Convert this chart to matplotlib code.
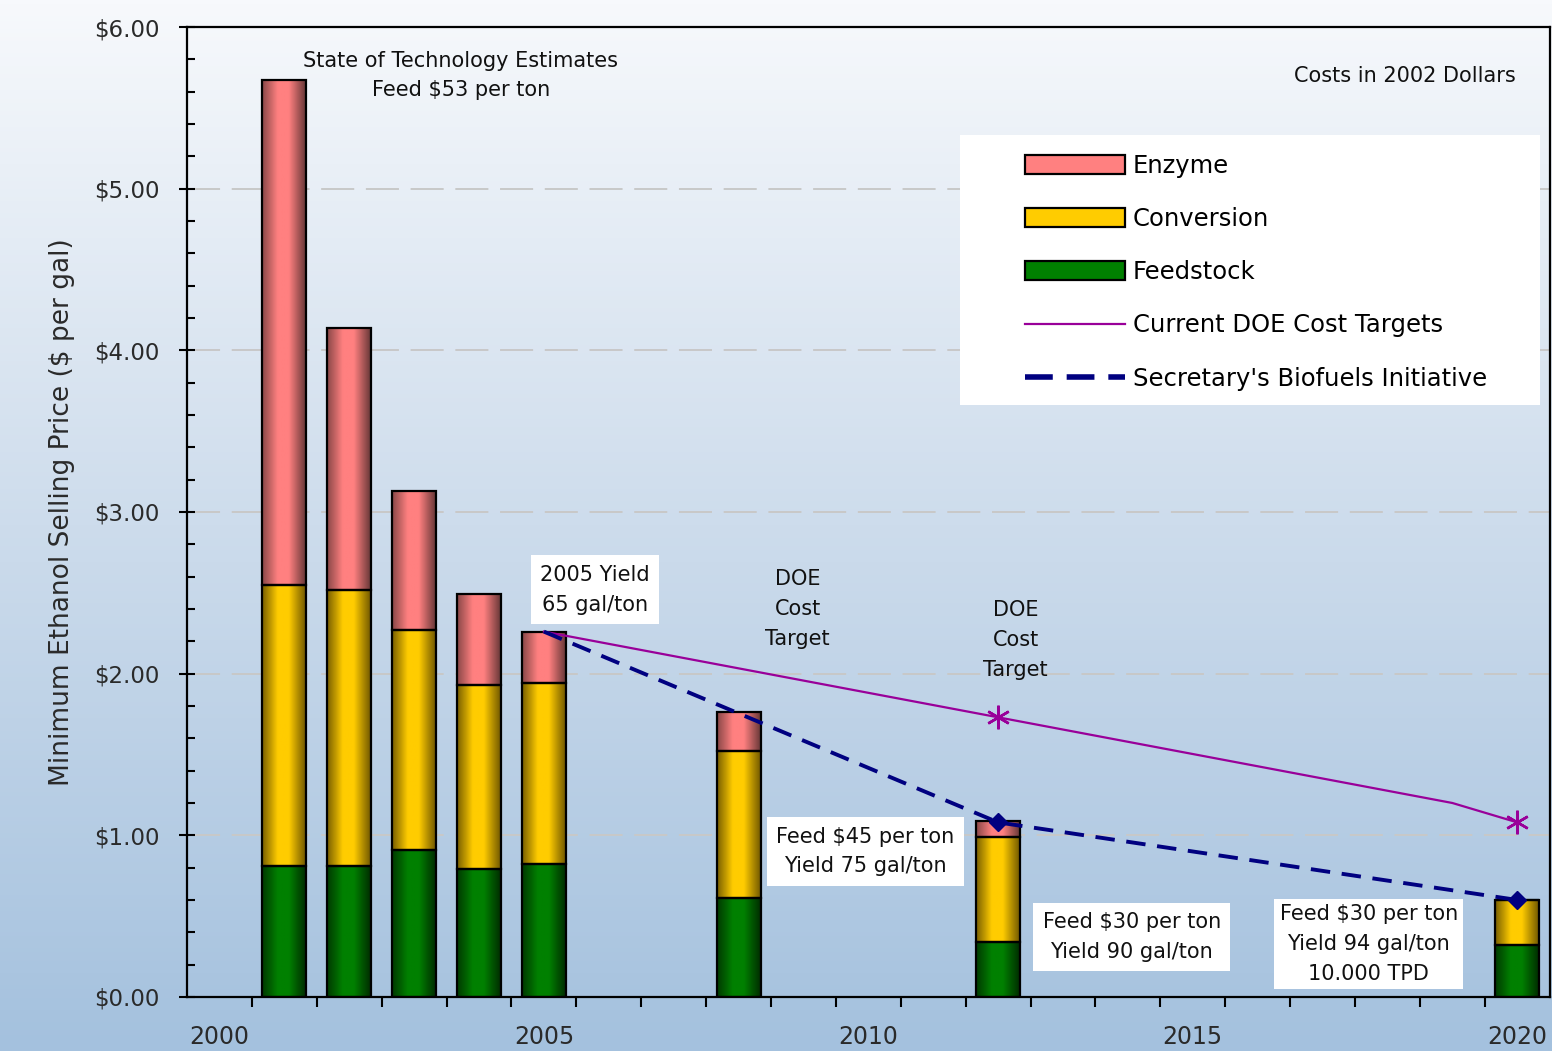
import matplotlib.pyplot as plt
import numpy as np
from matplotlib.colors import LinearSegmentedColormap
from matplotlib.patches import Patch, Rectangle
from matplotlib.lines import Line2D

# stacked cost components ($ per gal)
years = [2001, 2002, 2003, 2004, 2005, 2008, 2012, 2020]
feedstock = [0.81, 0.81, 0.91, 0.79, 0.82, 0.61, 0.34, 0.32]
conversion = [1.74, 1.71, 1.36, 1.14, 1.12, 0.91, 0.65, 0.28]
enzyme = [3.12, 1.62, 0.86, 0.56, 0.32, 0.24, 0.10, 0.0]

# target lines
doe_years = [2005, 2012, 2019, 2020]
doe_target = [2.26, 1.73, 1.20, 1.08]
bfi_years = [2005, 2012, 2020]
bfi_target = [2.26, 1.08, 0.60]

plt.rcParams['font.family'] = 'DejaVu Sans'

fig = plt.figure(figsize=(15.52, 10.51), dpi=100)

# background gradient over the whole figure
bg = fig.add_axes([0, 0, 1, 1], zorder=-10)
bg_cmap = LinearSegmentedColormap.from_list('bg', ['#f7f9fc', '#cddcec', '#a4c1de'])
bg.imshow(np.linspace(0, 1, 256).reshape(-1, 1), aspect='auto', cmap=bg_cmap,
          extent=[0, 1, 0, 1], origin='upper')
bg.axis('off')

ax = fig.add_axes([0.1205, 0.0514, 0.878, 0.9229])
ax.set_facecolor('none')


def shade_cmap(dark_l, base, dark_r):
    return LinearSegmentedColormap.from_list(
        'shade', [(0, dark_l), (0.35, base), (0.6, base), (1, dark_r)])


series = [
    ('Feedstock', feedstock, shade_cmap('#003a00', '#008000', '#002800'), '#008000'),
    ('Conversion', conversion, shade_cmap('#7a6000', '#ffcc00', '#6a5200'), '#ffcc00'),
    ('Enzyme', enzyme, shade_cmap('#8a4848', '#ff8080', '#603434'), '#ff8080'),
]

width = 0.68
bottom = np.zeros(len(years))
grad = np.linspace(0, 1, 64).reshape(1, -1)
for name, vals, cm, base in series:
    bars = ax.bar(years, vals, width=width, bottom=bottom, facecolor='none',
                  edgecolor='black', linewidth=1.6, zorder=3)
    for rect in bars:
        if rect.get_height() <= 0:
            continue
        x0, y0 = rect.get_x(), rect.get_y()
        ax.imshow(grad, extent=[x0, x0 + rect.get_width(), y0, y0 + rect.get_height()],
                  cmap=cm, aspect='auto', interpolation='bilinear', zorder=2)
    bottom = bottom + np.array(vals)

ax.plot(doe_years, doe_target, color='#990099', lw=1.6, marker=(6, 2, 0), ms=17,
        mew=1.8, markevery=[1, 3], zorder=5)
ax.plot(bfi_years, bfi_target, color='#000080', lw=2.8, ls=(0, (5, 3)),
        marker='D', ms=9, markevery=[1, 2], zorder=5)

ax.set_xlim(1999.5, 2020.5)
ax.set_ylim(0, 6)

# y axis
ax.set_yticks(np.arange(0, 7, 1))
ax.set_yticklabels([f'${v:.2f}' for v in range(7)], fontsize=16.5, color='#2a2a2a')
ax.set_yticks(np.arange(0, 6.01, 0.2), minor=True)
ax.tick_params(axis='y', which='major', direction='inout', length=11, width=1.5, pad=14)
ax.tick_params(axis='y', which='minor', direction='in', length=6, width=1.5)
ax.yaxis.grid(True, which='major', color='#c8c8c8', ls=(0, (17, 6)), lw=1.4)
ax.set_axisbelow(True)
ax.set_ylabel('Minimum Ethanol Selling Price ($ per gal)', fontsize=19, color='#2a2a2a',
              labelpad=14)

# x axis
ax.set_xticks([2000, 2005, 2010, 2015, 2020])
ax.set_xticklabels(['2000', '2005', '2010', '2015', '2020'], fontsize=17, color='#2a2a2a')
ax.set_xticks(np.arange(2000.5, 2020, 1.0), minor=True)
ax.tick_params(axis='x', which='major', length=0, pad=20)
ax.tick_params(axis='x', which='minor', direction='out', length=7, width=1.5)

for s in ax.spines.values():
    s.set_linewidth(1.6)
    s.set_color('black')

# annotations
txt = dict(ha='center', va='center', fontsize=15, color='#111111', zorder=6,
           linespacing=1.62)
box = dict(boxstyle='square,pad=0.45', facecolor='white', edgecolor='none')
ax.text(2003.72, 5.70, 'State of Technology Estimates\nFeed $53 per ton', **txt)
ax.text(2018.27, 5.70, 'Costs in 2002 Dollars', **txt)
ax.text(2005.79, 2.52, '2005 Yield\n65 gal/ton', bbox=box, **txt)
ax.text(2008.91, 2.40, 'DOE\nCost\nTarget', **txt)
ax.text(2012.27, 2.21, 'DOE\nCost\nTarget', **txt)
ax.text(2009.95, 0.90, 'Feed $45 per ton\nYield 75 gal/ton', bbox=box, **txt)
ax.text(2014.06, 0.37, 'Feed $30 per ton\nYield 90 gal/ton', bbox=box, **txt)
ax.text(2017.71, 0.33, 'Feed $30 per ton\nYield 94 gal/ton\n10.000 TPD',
        bbox=dict(boxstyle='square,pad=0.25', facecolor='white', edgecolor='none'), **txt)

# legend on a white panel
fig.patches.append(Rectangle((960 / 1552, 1 - 405 / 1051), 580 / 1552, 270 / 1051,
                             transform=fig.transFigure, facecolor='white',
                             edgecolor='none', zorder=1))
handles = [
    Patch(facecolor='#ff8080', edgecolor='black', lw=1.6),
    Patch(facecolor='#ffcc00', edgecolor='black', lw=1.6),
    Patch(facecolor='#008000', edgecolor='black', lw=1.6),
    Line2D([], [], color='#990099', lw=1.6),
    Line2D([], [], color='#000080', lw=4, ls=(0, (5, 2.5))),
]
labels = ['Enzyme', 'Conversion', 'Feedstock', 'Current DOE Cost Targets',
          "Secretary's Biofuels Initiative"]
leg = fig.legend(handles, labels, loc='upper left', bbox_to_anchor=(1003 / 1552, 1 - 132 / 1051),
                 frameon=False, fontsize=17.5, handlelength=4.1, handleheight=0.8,
                 handletextpad=0.33, labelspacing=1.2)
leg.set_zorder(2)

fig.savefig('out.png', dpi=100)
